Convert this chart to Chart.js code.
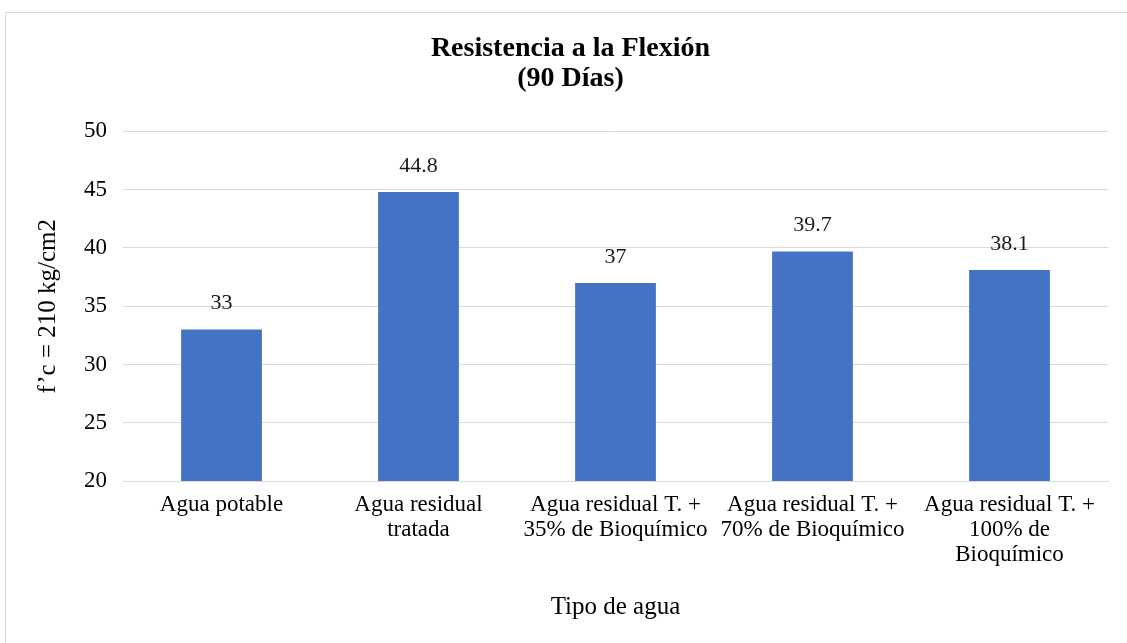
<!DOCTYPE html>
<html>
<head>
<meta charset="utf-8">
<script src="https://cdn.jsdelivr.net/npm/chart.js@4"></script>
<style>
  html, body { margin: 0; padding: 0; background: #fff; }
  #wrap {
    position: absolute; left: 5px; top: 12px;
    width: 1122px; height: 631px;
    border: 1px solid #d9d9d9; border-right: none; border-bottom: none;
    box-sizing: border-box;
  }
</style>
</head>
<body>
<div id="wrap"><canvas id="chart"></canvas></div>
<script>
// chart data
const categories = [
  ['Agua potable'],
  ['Agua residual', 'tratada'],
  ['Agua residual T. +', '35% de Bioquímico'],
  ['Agua residual T. +', '70% de Bioquímico'],
  ['Agua residual T. +', '100% de', 'Bioquímico'],
];
const values = [33, 44.8, 37, 39.7, 38.1];
const yMin = 20;
const yMax = 50;
const yStep = 5;

const serif = "'Liberation Serif', 'Times New Roman', serif";

// draws the value above each bar
const valueLabels = {
  id: 'valueLabels',
  afterDatasetsDraw(chart) {
    const { ctx } = chart;
    const meta = chart.getDatasetMeta(0);
    ctx.save();
    ctx.font = '22px ' + serif;
    ctx.fillStyle = '#1a1a1a';
    ctx.textAlign = 'center';
    ctx.textBaseline = 'middle';
    meta.data.forEach((bar, i) => {
      ctx.fillText(String(values[i]), bar.x, bar.y - 26);
    });
    ctx.restore();
  }
};

new Chart(document.getElementById('chart'), {
  type: 'bar',
  data: {
    labels: categories,
    datasets: [{
      data: values,
      backgroundColor: '#4472c4',
      barPercentage: 0.41,
      categoryPercentage: 1,
    }]
  },
  options: {
    responsive: true,
    maintainAspectRatio: false,
    animation: false,
    layout: { padding: { left: 27, right: 19, top: 0, bottom: 21 } },
    plugins: {
      legend: { display: false },
      tooltip: { enabled: false },
      title: {
        display: true,
        text: ['Resistencia a la Flexión', '(90 Días)'],
        color: '#000',
        font: { family: serif, size: 28, weight: 'bold', lineHeight: 1.06 },
        padding: { top: 21, bottom: 38 },
      },
    },
    scales: {
      x: {
        grid: { display: false, drawTicks: false },
        border: { display: true, color: '#d9d9d9', width: 1 },
        ticks: {
          color: '#000',
          font: { family: serif, size: 23, lineHeight: 1.1 },
          padding: 11,
          maxRotation: 0,
          autoSkip: false,
        },
        title: {
          display: true,
          text: 'Tipo de agua',
          color: '#000',
          font: { family: serif, size: 25, lineHeight: 1.2 },
          padding: { top: 13, bottom: 0 },
        },
      },
      y: {
        min: yMin,
        max: yMax,
        grid: { color: '#d9d9d9', drawTicks: false },
        border: { display: false },
        ticks: {
          stepSize: yStep,
          color: '#000',
          font: { family: serif, size: 23 },
          padding: 16,
        },
        title: {
          display: true,
          text: 'f\u2019c = 210 kg/cm2',
          color: '#000',
          font: { family: serif, size: 25, lineHeight: 1.2 },
          padding: { top: 0, bottom: 5 },
        },
      },
    },
  },
  plugins: [valueLabels],
});
</script>
</body>
</html>
